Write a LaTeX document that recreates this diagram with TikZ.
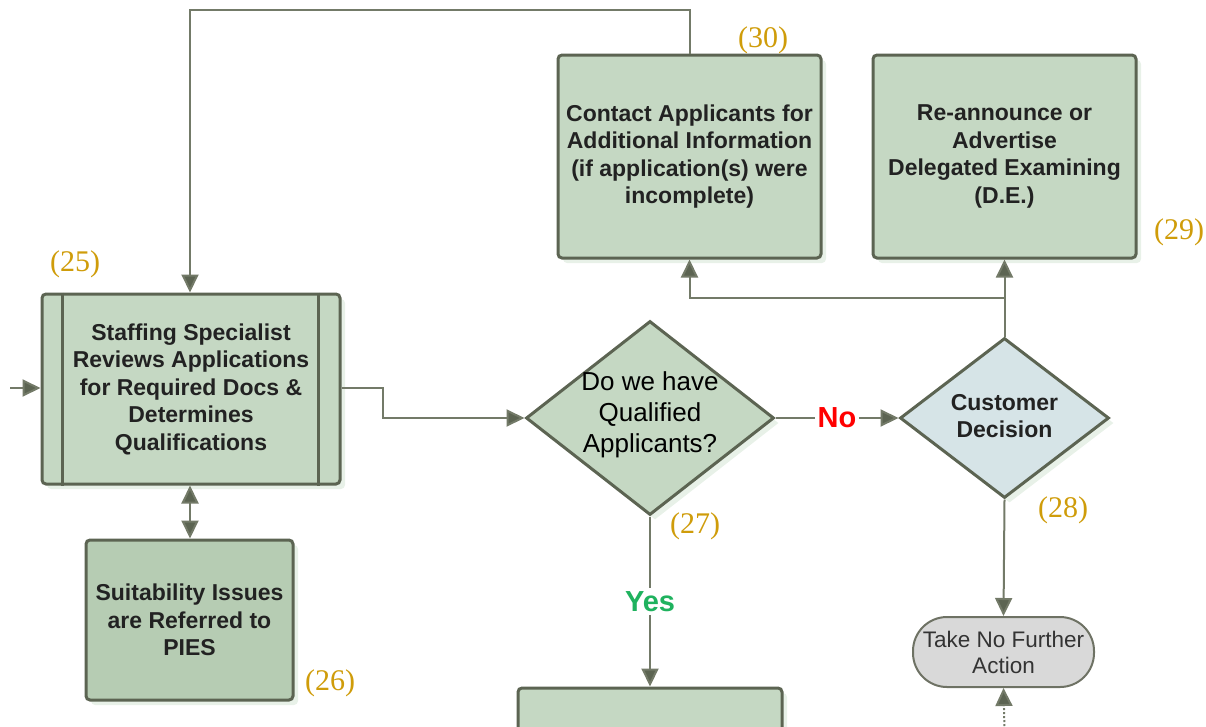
\documentclass[tikz,border=0pt]{standalone}
\usepackage{fontspec}
\setmainfont{Liberation Sans}
\newfontfamily\numfont{Liberation Serif}
\usetikzlibrary{arrows.meta,shapes.geometric,shadows}

\definecolor{boxfill}{HTML}{C5D8C3}
\definecolor{boxfilldark}{HTML}{B6CCB3}
\definecolor{boxline}{HTML}{5C6452}
\definecolor{connline}{HTML}{737A68}
\definecolor{decfill}{HTML}{D6E4E7}
\definecolor{termfill}{HTML}{D9D9D9}
\definecolor{termline}{HTML}{6E7264}
\definecolor{numcol}{HTML}{CF9C0A}
\definecolor{nored}{HTML}{FF0000}
\definecolor{yesgreen}{HTML}{1FB25E}
\definecolor{txt}{HTML}{222222}

\tikzset{
  headtip/.tip={Triangle[length=18pt,width=17pt,fill=boxline]},
  shade/.style={drop shadow={shadow xshift=5pt,shadow yshift=-5pt,fill=black!60!green!20,opacity=0.45}},
  procbox/.style={draw=boxline,line width=3pt,rounded corners=4pt,fill=boxfill,shade,
    text=txt,align=center,inner sep=0pt,
    font=\bfseries\fontsize{23}{27.5}\selectfont},
  decision/.style={diamond,draw=boxline,line width=3pt,shade,inner sep=0pt},
  terminal/.style={draw=termline,line width=2pt,fill=termfill,rounded corners=34pt,
    minimum width=181pt,minimum height=70pt,inner sep=0pt,align=center,text=black!80,
    font=\fontsize{22.5}{26}\selectfont},
  conn/.style={draw=connline,line width=2pt,-headtip},
  plain/.style={draw=connline,line width=2pt},
  num/.style={text=numcol,font=\numfont\fontsize{30}{30}\selectfont,inner sep=0pt},
}

\begin{document}
\begin{tikzpicture}[x=1pt,y=-1pt]
\useasboundingbox (0,0) rectangle (1206,726);
\clip (0,0) rectangle (1206,726);

% process boxes
\node[procbox,minimum width=298pt,minimum height=190pt] (b25) at (191,389)
  {Staffing Specialist\\Reviews Applications\\for Required Docs \&\\Determines\\Qualifications};
\draw[boxline,line width=3pt] ([xshift=22pt]b25.north west) -- ([xshift=22pt]b25.south west);
\draw[boxline,line width=3pt] ([xshift=-23pt]b25.north east) -- ([xshift=-23pt]b25.south east);

\node[procbox,fill=boxfilldark,minimum width=207pt,minimum height=160pt] (b26) at (189.5,620)
  {Suitability Issues\\are Referred to\\PIES};

\node[procbox,minimum width=263pt,minimum height=203pt] (b30) at (689.5,156.5)
  {Contact Applicants for\\Additional Information\\(if application(s) were\\incomplete)};

\node[procbox,minimum width=263pt,minimum height=203pt] (b29) at (1004.5,156.5)
  {Re-announce or\\Advertise\\Delegated Examining\\(D.E.)};

\node[procbox,minimum width=264pt,minimum height=203pt] (b31) at (650,789.5) {};

% decisions
\node[decision,fill=boxfill,minimum width=248pt,minimum height=194pt] (d27) at (650,418) {};
\node[align=center,text=black,font=\fontsize{26}{31}\selectfont] (t27) at (650,415)
  {Do we have\\Qualified\\Applicants?};

\node[decision,fill=decfill,minimum width=209pt,minimum height=160pt] (d28) at (1004.5,418) {};
\node[align=center,text=txt,font=\bfseries\fontsize{23}{27}\selectfont] (t28) at (1004.5,416.5)
  {Customer\\Decision};

% terminal
\node[terminal] (end) at (1003.5,652) {Take No Further\\Action};

% connectors
\coordinate (in) at (10,388);
\draw[conn] (in) -- (in -| b25.west);
\draw[conn] (b25.east |- 0,388) -- (383,388) |- (d27.west);
\draw[conn] (d27.east) -- node[fill=white,inner sep=3pt,text=nored,font=\bfseries\fontsize{29}{29}\selectfont] (no) {No} (d28.west);
\draw[conn] (d27.south) -- node[fill=white,inner sep=3pt,text=yesgreen,font=\bfseries\fontsize{29}{29}\selectfont] (yes) {Yes} (b31.north);
\coordinate (split) at (1004.5,298);
\draw[plain] (d28.north) -- (split);
\draw[conn] (split) -| (b30.south);
\draw[conn] (split) -- (b29.south);
\coordinate (loop) at (690,10);
\draw[conn] (b30.north -| loop) -- (loop) -| (b25.north -| 190,0);
\draw[conn,headtip-headtip] (b25.south -| 190,0) -- (b26.north -| 190,0);
\draw[conn] (d28.south) -- (end.north);
\coordinate (below) at (1004.5,730);
\draw[conn,dotted] (below) -- (end.south);

% step numbers
\node[num] (n25) at (75,264) {(25)};
\node[num] (n26) at (330,683) {(26)};
\node[num] (n27) at (695,526) {(27)};
\node[num] (n28) at (1063,510) {(28)};
\node[num] (n29) at (1179,232) {(29)};
\node[num] (n30) at (763,40) {(30)};
\end{tikzpicture}
\end{document}
